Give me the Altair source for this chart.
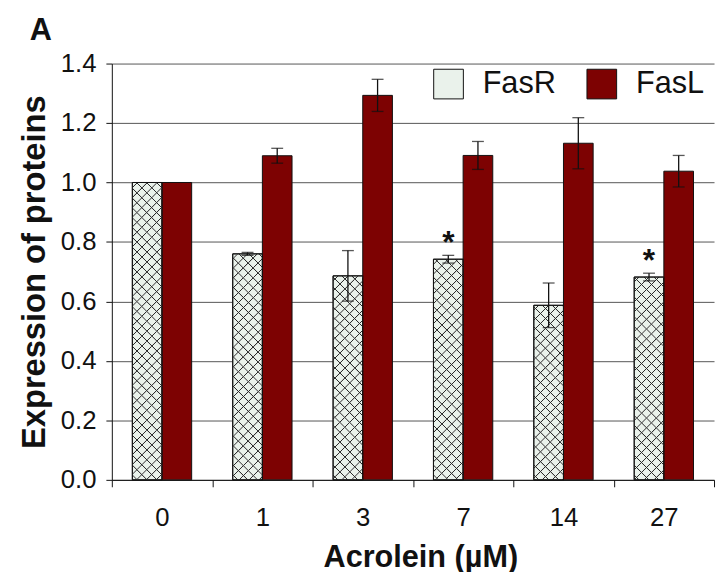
import altair as alt
import pandas as pd

FONT = "Liberation Sans, Arial, Helvetica, sans-serif"

# ---- data ----
categories = ["0", "1", "3", "7", "14", "27"]
proteins = ["FasR", "FasL"]
fasr_vals = [1.00, 0.76, 0.686, 0.742, 0.587, 0.682]
fasr_err = [0.0, 0.005, 0.085, 0.013, 0.075, 0.013]
fasl_vals = [1.00, 1.09, 1.293, 1.091, 1.132, 1.038]
fasl_err = [0.0, 0.025, 0.054, 0.047, 0.086, 0.053]
fasr_sig = [False, False, False, True, False, True]
y_ticks = [0.0, 0.2, 0.4, 0.6, 0.8, 1.0, 1.2, 1.4]

rows = []
for i, c in enumerate(categories):
    rows.append(dict(dose=c, protein="FasR", value=fasr_vals[i], err=fasr_err[i], sig=fasr_sig[i]))
    rows.append(dict(dose=c, protein="FasL", value=fasl_vals[i], err=fasl_err[i], sig=False))
df = pd.DataFrame(rows)
df["lo"] = df["value"] - df["err"]
df["hi"] = df["value"] + df["err"]

# ---- layout / style ----
PLOT_W, PLOT_H = 609, 421
Y_MAX = 1.4
OFFSET_PAD = 0.692
BAR_W = PLOT_W / len(categories) / (2 + 2 * OFFSET_PAD)
FASR_BG = "#eaf2eb"
FASL_COLOR = "#7d0202"
INK = "#111111"

x_enc = alt.X(
    "dose:N",
    sort=categories,
    scale=alt.Scale(domain=categories, paddingInner=0, paddingOuter=0),
    axis=alt.Axis(
        labelAngle=0, tickBand="extent", tickSize=7, tickColor=INK, domainColor=INK,
        labelFontSize=26, labelFont=FONT, labelColor=INK, labelPadding=18,
        title="Acrolein (µM)", titleFontSize=31, titleFont=FONT, titleFontWeight="bold",
        titleColor=INK, titlePadding=13, titleX=312, grid=False,
    ),
)
xo_enc = alt.XOffset(
    "protein:N", sort=proteins,
    scale=alt.Scale(domain=proteins, paddingInner=0, paddingOuter=OFFSET_PAD),
)
y_axis = alt.Axis(
    values=y_ticks, format=".1f", tickSize=6, tickColor=INK, domainColor=INK,
    labelFontSize=26, labelFont=FONT, labelColor=INK, labelPadding=10,
    gridColor="#555555", gridWidth=1,
    title="Expression of proteins", titleFontSize=33, titleFont=FONT,
    titleFontWeight="bold", titleColor=INK, titlePadding=9,
)
y_scale = alt.Scale(domain=[0, Y_MAX], nice=False)


def hatch(h, w, spacing=10.0, lw=1.0, flip=False, color="#2a2a2a", bg="rgba(255,255,255,0)"):
    total = w + h
    k = total / (w * w + h * h)
    if flip:
        x1, y1, x2, y2 = 0, 1, k * w, 1 - k * h
    else:
        x1, y1, x2, y2 = 0, 0, k * w, k * h
    stops = [{"offset": 0, "color": bg}]
    c = spacing / 2
    last = 0.0
    while c < total:
        for off, col in ((c - lw, bg), (c - lw * 0.3, color), (c + lw * 0.3, color), (c + lw, bg)):
            o = min(max(off / total, last), 1.0)
            stops.append({"offset": o, "color": col})
            last = o
        c += spacing
    stops.append({"offset": 1, "color": bg})
    return {"gradient": "linear", "x1": x1, "y1": y1, "x2": x2, "y2": y2, "stops": stops}


base = alt.Chart(df).mark_bar(stroke=INK, strokeWidth=1).encode(
    x=x_enc,
    xOffset=xo_enc,
    y=alt.Y("value:Q", scale=y_scale, axis=y_axis),
    color=alt.Color(
        "protein:N",
        scale=alt.Scale(domain=proteins, range=[FASR_BG, FASL_COLOR]),
        legend=alt.Legend(
            title=None, orient="none", legendX=325, legendY=5, direction="horizontal",
            symbolType="square", symbolSize=900, symbolStrokeColor=INK, symbolStrokeWidth=1,
            symbolOpacity=1, labelFontSize=31, labelFont=FONT, labelColor=INK,
            labelOffset=19, columnPadding=28, padding=0,
        ),
    ),
)

hatch_layers = []
for i, c in enumerate(categories):
    h_px = fasr_vals[i] / Y_MAX * PLOT_H
    for flip in (False, True):
        props = dict(fill=hatch(h_px, BAR_W, flip=flip))
        if flip:
            props.update(stroke=INK, strokeWidth=1)
        hatch_layers.append(
            alt.Chart(df)
            .transform_filter(f"datum.protein == 'FasR' && datum.dose == '{c}'")
            .mark_bar(**props)
            .encode(x=x_enc, xOffset=xo_enc, y=alt.Y("value:Q", scale=y_scale))
        )

err_df = df[df["err"] > 0]
rule = alt.Chart(err_df).mark_rule(color=INK, strokeWidth=1.3).encode(
    x=x_enc, xOffset=xo_enc, y=alt.Y("lo:Q", scale=y_scale), y2="hi:Q"
)
cap_hi = alt.Chart(err_df).mark_tick(color=INK, thickness=1.3, size=12).encode(
    x=x_enc, xOffset=xo_enc, y=alt.Y("hi:Q", scale=y_scale)
)
cap_lo = alt.Chart(err_df).mark_tick(color=INK, thickness=1.3, size=12).encode(
    x=x_enc, xOffset=xo_enc, y=alt.Y("lo:Q", scale=y_scale)
)
stars = alt.Chart(df[df["sig"]]).mark_text(
    text="*", fontSize=32, fontWeight="bold", font=FONT, color=INK, baseline="middle", dy=-12
).encode(x=x_enc, xOffset=xo_enc, y=alt.Y("hi:Q", scale=y_scale))

chart = (
    alt.layer(base, *hatch_layers, rule, cap_hi, cap_lo, stars)
    .properties(
        width=PLOT_W,
        height=PLOT_H,
        title=alt.TitleParams(
            "A", anchor="start", frame="group", dx=-83, offset=4,
            fontSize=31, fontWeight="bold", font=FONT, color=INK,
        ),
        padding={"left": 105, "top": 53, "right": 3, "bottom": 90},
        autosize=alt.AutoSizeParams(type="none"),
        background="white",
    )
    .configure_view(strokeWidth=0)
)

chart.save("out.html", embed_options={"renderer": "svg", "actions": False})
